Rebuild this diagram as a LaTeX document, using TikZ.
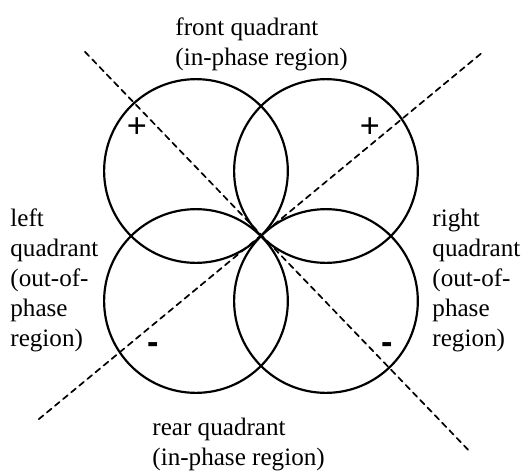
\documentclass[tikz,border=0pt]{standalone}
\usepackage{fontspec}
\setmainfont{Liberation Serif}
\newfontfamily\signfont{Liberation Sans}
\usepackage{tkz-euclide}
\tikzset{quadlabel/.style={anchor=north west,inner sep=0pt,align=left,
    font=\fontsize{11}{13.1}\selectfont}}
\tikzset{signlabel/.style={inner sep=0pt,font=\signfont\fontsize{15}{15}\selectfont}}

\begin{document}
\begin{tikzpicture}
\useasboundingbox (-4.015,-3.6) rectangle (4.031,3.631);
\tkzSetUpLine[line width=0.9pt,color=black]

\tkzDefPoints{0/0/O,-1/1/C1,1/1/C2,-1/-1/C3,1/-1/C4}
\tkzDefShiftPoint[O](133.7:3.92){NW}
\tkzDefShiftPoint[O](-45.9:4.58){SE}
\tkzDefShiftPoint[O](39.66:4.44){NE}
\tkzDefShiftPoint[O](219.5:4.43){SW}

\tkzDrawSegments[line width=0.75pt,color=black,dashed,dash pattern=on 2.6pt off 2pt](NW,SE SW,NE)
\tkzDrawCircles[line width=0.95pt,color=black](C1,O C2,O C3,O C4,O)

%\tkzDrawPoints[size=2](O)

\node[quadlabel] (front) at (-1.323,3.37) {front quadrant\\(in-phase region)};
\node[quadlabel] (rear) at (-1.677,-2.8) {rear quadrant\\(in-phase region)};
\node[quadlabel] (left) at (-3.862,0.42) {left\\quadrant\\(out-of-\\phase\\region)};
\node[quadlabel] (right) at (2.631,0.42) {right\\quadrant\\(out-of-\\phase\\region)};

\node[signlabel] (plusL) at (-1.908,1.662) {+};
\node[signlabel] (plusR) at (1.677,1.662) {+};
\node[signlabel,font=\signfont\bfseries\fontsize{15}{15}\selectfont] (minusL) at (-1.662,-1.723) {-};
\node[signlabel,font=\signfont\bfseries\fontsize{15}{15}\selectfont] (minusR) at (1.938,-1.723) {-};

\end{tikzpicture}
\end{document}
